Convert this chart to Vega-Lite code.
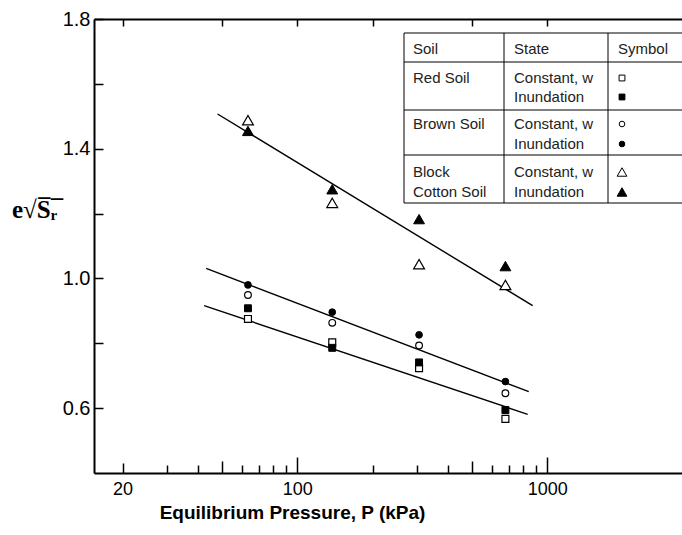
{
  "$schema": "https://vega.github.io/schema/vega-lite/v6.json",
  "width": 588,
  "height": 454,
  "autosize": "none",
  "padding": {"left": 94, "top": 19, "right": 0, "bottom": 62},
  "background": "white",
  "config": {"view": {"stroke": null}},
  "datasets": {
    "fits": [
      {"soil": "Block Cotton Soil", "P": 48.0, "e": 1.507},
      {"soil": "Block Cotton Soil", "P": 874, "e": 0.916},
      {"soil": "Brown Soil", "P": 43.2, "e": 1.031},
      {"soil": "Brown Soil", "P": 843, "e": 0.651},
      {"soil": "Red Soil", "P": 42.4, "e": 0.916},
      {"soil": "Red Soil", "P": 835, "e": 0.581}
    ],
    "measurements": [
      {"soil": "Red Soil", "state": "Constant, w", "P": 63.5, "e": 0.875},
      {"soil": "Red Soil", "state": "Inundation", "P": 63.5, "e": 0.908},
      {"soil": "Brown Soil", "state": "Constant, w", "P": 63.5, "e": 0.949},
      {"soil": "Brown Soil", "state": "Inundation", "P": 63.5, "e": 0.980},
      {"soil": "Block Cotton Soil", "state": "Constant, w", "P": 63.5, "e": 1.488},
      {"soil": "Block Cotton Soil", "state": "Inundation", "P": 63.5, "e": 1.455},
      {"soil": "Red Soil", "state": "Constant, w", "P": 138, "e": 0.803},
      {"soil": "Red Soil", "state": "Inundation", "P": 138, "e": 0.786},
      {"soil": "Brown Soil", "state": "Constant, w", "P": 138, "e": 0.863},
      {"soil": "Brown Soil", "state": "Inundation", "P": 138, "e": 0.896},
      {"soil": "Block Cotton Soil", "state": "Constant, w", "P": 138, "e": 1.233},
      {"soil": "Block Cotton Soil", "state": "Inundation", "P": 138, "e": 1.275},
      {"soil": "Red Soil", "state": "Constant, w", "P": 307, "e": 0.723},
      {"soil": "Red Soil", "state": "Inundation", "P": 307, "e": 0.741},
      {"soil": "Brown Soil", "state": "Constant, w", "P": 307, "e": 0.793},
      {"soil": "Brown Soil", "state": "Inundation", "P": 307, "e": 0.826},
      {"soil": "Block Cotton Soil", "state": "Constant, w", "P": 307, "e": 1.044},
      {"soil": "Block Cotton Soil", "state": "Inundation", "P": 307, "e": 1.183},
      {"soil": "Red Soil", "state": "Constant, w", "P": 680, "e": 0.567},
      {"soil": "Red Soil", "state": "Inundation", "P": 680, "e": 0.594},
      {"soil": "Brown Soil", "state": "Constant, w", "P": 680, "e": 0.646},
      {"soil": "Brown Soil", "state": "Inundation", "P": 680, "e": 0.682},
      {"soil": "Block Cotton Soil", "state": "Constant, w", "P": 680, "e": 0.980},
      {"soil": "Block Cotton Soil", "state": "Inundation", "P": 680, "e": 1.038}
    ],
    "keyGrid": [
      {"x": 0, "x2": 2.78, "y": 0, "y2": 0},
      {"x": 0, "x2": 2.78, "y": 1.45, "y2": 1.45},
      {"x": 0, "x2": 2.78, "y": 3.85, "y2": 3.85},
      {"x": 0, "x2": 2.78, "y": 6.1, "y2": 6.1},
      {"x": 0, "x2": 2.78, "y": 8.5, "y2": 8.5},
      {"x": 0, "x2": 0, "y": 0, "y2": 8.5},
      {"x": 1.0, "x2": 1.0, "y": 0, "y2": 8.5},
      {"x": 2.04, "x2": 2.04, "y": 0, "y2": 8.5}
    ],
    "keyHeadings": [
      {"col": 0.09, "line": 0.8, "text": "Soil"},
      {"col": 1.10, "line": 0.8, "text": "State"},
      {"col": 2.14, "line": 0.8, "text": "Symbol"},
      {"col": 0.09, "line": 2.25, "text": "Red Soil"},
      {"col": 0.09, "line": 4.55, "text": "Brown Soil"},
      {"col": 0.09, "line": 6.95, "text": "Block"},
      {"col": 0.09, "line": 7.95, "text": "Cotton Soil"}
    ],
    "keyEntries": [
      {"soil": "Red Soil", "state": "Constant, w", "line": 2.25},
      {"soil": "Red Soil", "state": "Inundation", "line": 3.2},
      {"soil": "Brown Soil", "state": "Constant, w", "line": 4.55},
      {"soil": "Brown Soil", "state": "Inundation", "line": 5.55},
      {"soil": "Block Cotton Soil", "state": "Constant, w", "line": 6.95},
      {"soil": "Block Cotton Soil", "state": "Inundation", "line": 7.95}
    ]
  },
  "layer": [
    {
      "encoding": {
        "y": {
          "field": "e",
          "type": "quantitative",
          "scale": {"domain": [0.4, 1.8], "nice": false, "zero": false},
          "axis": {
            "orient": "left",
            "values": [0.6, 0.8, 1.0, 1.2, 1.4, 1.6, 1.8],
            "labelExpr": "(datum.value == 0.6 || datum.value == 1 || datum.value == 1.4 || datum.value == 1.8) ? format(datum.value, '.1f') : ''",
            "grid": false,
            "domainColor": "black",
            "domainWidth": 2,
            "tickColor": "black",
            "tickWidth": 1.5,
            "tickSize": -9,
            "labelPadding": 13,
            "labelFont": "Liberation Sans",
            "labelFontSize": 20,
            "labelColor": "black",
            "labelFlush": false,
            "title": "e\u221aS\u0305\u1d63\u0305",
            "titleAngle": 0,
            "titleFont": "Liberation Serif",
            "titleFontSize": 25,
            "titleFontWeight": "bold",
            "titleColor": "black",
            "titleAlign": "center",
            "titleBaseline": "alphabetic",
            "titleX": -60,
            "titleY": 198
          }
        },
        "shape": {
          "field": "soil",
          "type": "nominal",
          "scale": {"domain": ["Red Soil", "Brown Soil", "Block Cotton Soil"], "range": ["square", "circle", "triangle-up"]},
          "legend": null
        },
        "size": {
          "field": "soil",
          "type": "nominal",
          "scale": {"type": "ordinal", "domain": ["Red Soil", "Brown Soil", "Block Cotton Soil"], "range": [48, 45, 118]},
          "legend": null
        }
      },
      "layer": [
        {
          "data": {"name": "fits"},
          "mark": {"type": "line", "color": "black", "strokeWidth": 1.4},
          "encoding": {
            "x": {
              "field": "P",
              "type": "quantitative",
              "scale": {"type": "log", "domain": [15.38, 3458], "nice": false, "zero": false},
              "axis": {
                "orient": "bottom",
                "values": [20, 100, 1000],
                "format": "d",
                "ticks": false,
                "grid": false,
                "domainColor": "black",
                "domainWidth": 2,
                "labelPadding": 7,
                "labelFont": "Liberation Sans",
                "labelFontSize": 18,
                "labelColor": "black",
                "labelFlush": false,
                "title": "Equilibrium Pressure, P (kPa)",
                "titleFont": "Liberation Sans",
                "titleFontSize": 19,
                "titleFontWeight": "bold",
                "titleColor": "black",
                "titleAlign": "center",
                "titleBaseline": "alphabetic",
                "titleX": 198,
                "titleY": 45
              }
            },
            "detail": {"field": "soil"},
            "shape": null,
            "size": null
          }
        },
        {
          "data": {"name": "measurements"},
          "transform": [{"filter": "datum.state === 'Constant, w'"}],
          "mark": {"type": "point", "filled": true, "fill": "white", "stroke": "black", "strokeWidth": 1.2, "opacity": 1},
          "encoding": {
            "x": {
              "field": "P",
              "type": "quantitative",
              "axis": {
                "orient": "bottom",
                "values": [20, 30, 40, 50, 60, 70, 80, 90, 100, 200, 300, 400, 500, 600, 700, 800, 900, 1000],
                "labels": false,
                "domain": false,
                "grid": false,
                "title": null,
                "tickColor": "black",
                "tickWidth": 1.5,
                "tickSize": {
                  "condition": [
                    {"test": "datum.value === 100 || datum.value === 1000", "value": -16},
                    {"test": "datum.value === 50 || datum.value === 500", "value": -12},
                    {"test": "datum.value === 20", "value": -10}
                  ],
                  "value": -8
                }
              }
            }
          }
        },
        {
          "data": {"name": "measurements"},
          "transform": [{"filter": "datum.state === 'Inundation'"}],
          "mark": {"type": "point", "filled": true, "fill": "black", "stroke": "black", "strokeWidth": 1, "opacity": 1},
          "encoding": {
            "x": {
              "field": "P",
              "type": "quantitative",
              "axis": {
                "orient": "top",
                "values": [20, 50, 100, 200, 500, 1000],
                "labels": false,
                "grid": false,
                "title": null,
                "domainColor": "black",
                "domainWidth": 2,
                "tickColor": "black",
                "tickWidth": 1.5,
                "tickSize": -7
              }
            }
          }
        }
      ],
      "resolve": {"axis": {"x": "independent"}}
    },
    {
      "layer": [
        {
          "data": {"name": "keyGrid"},
          "mark": {"type": "rule", "color": "black", "strokeWidth": 1},
          "encoding": {
            "x": {"field": "x", "type": "quantitative", "scale": {"domain": [-3.10, 2.78], "nice": false, "zero": false}, "axis": null},
            "x2": {"field": "x2"},
            "y": {"field": "y", "type": "quantitative", "scale": {"domain": [-0.7, 22], "reverse": true, "nice": false, "zero": false}, "axis": null},
            "y2": {"field": "y2"}
          }
        },
        {
          "data": {"name": "keyHeadings"},
          "mark": {"type": "text", "align": "left", "baseline": "middle", "font": "Liberation Sans", "fontSize": 15, "color": "#222"},
          "encoding": {
            "x": {"field": "col", "type": "quantitative"},
            "y": {"field": "line", "type": "quantitative"},
            "text": {"field": "text"}
          }
        },
        {
          "data": {"name": "keyEntries"},
          "mark": {"type": "text", "align": "left", "baseline": "middle", "font": "Liberation Sans", "fontSize": 15, "color": "#222"},
          "encoding": {
            "x": {"datum": 1.10, "type": "quantitative"},
            "y": {"field": "line", "type": "quantitative"},
            "text": {"field": "state"}
          }
        },
        {
          "data": {"name": "keyEntries"},
          "mark": {"type": "point", "filled": true, "stroke": "black", "strokeWidth": 1, "opacity": 1},
          "encoding": {
            "x": {"datum": 2.18, "type": "quantitative"},
            "y": {"field": "line", "type": "quantitative"},
            "shape": {
              "field": "soil",
              "type": "nominal",
              "scale": {"domain": ["Red Soil", "Brown Soil", "Block Cotton Soil"], "range": ["square", "circle", "triangle-up"]},
              "legend": null
            },
            "size": {
              "field": "soil",
              "type": "nominal",
              "scale": {"type": "ordinal", "domain": ["Red Soil", "Brown Soil", "Block Cotton Soil"], "range": [34, 32, 95]},
              "legend": null
            },
            "fill": {
              "field": "state",
              "type": "nominal",
              "scale": {"domain": ["Constant, w", "Inundation"], "range": ["white", "black"]},
              "legend": null
            }
          }
        }
      ]
    }
  ],
  "resolve": {"scale": {"x": "independent", "y": "independent", "shape": "independent", "size": "independent", "fill": "independent"}}
}
